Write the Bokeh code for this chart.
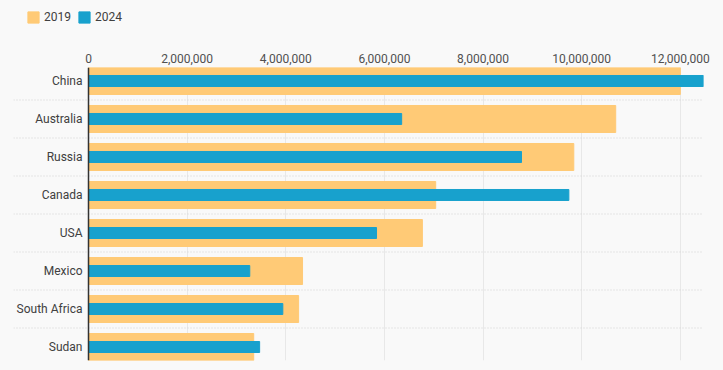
from bokeh.plotting import figure
from bokeh.layouts import column
from bokeh.models import (Range1d, FixedTicker, NumeralTickFormatter, Span,
                          Legend, LegendItem, ColumnDataSource)
from bokeh.core.properties import value
from bokeh.embed import file_html
from bokeh.resources import INLINE

countries = ["China", "Australia", "Russia", "Canada", "USA", "Mexico", "South Africa", "Sudan"]
values_2019 = [12000000, 10690000, 9840000, 7040000, 6770000, 4340000, 4260000, 3350000]
values_2024 = [12470000, 6350000, 8780000, 9740000, 5840000, 3270000, 3940000, 3470000]
series_names = ["2019", "2024"]
tick_values = [0, 2000000, 4000000, 6000000, 8000000, 10000000, 12000000]

BG = "#f9f9f9"
C2019 = "#ffca76"
C2024 = "#18a1cd"
FONT = "Roboto"
TEXT = "#404040"

n = len(countries)
ypos = list(range(n))
xmax = max(values_2019 + values_2024)
label_px = 75.0   # pixels reserved for category labels inside the frame
data_px = 615.0
xmin = -xmax * label_px / data_px

src = ColumnDataSource(dict(y=ypos, country=countries, v2019=values_2019, v2024=values_2024))

# ---- legend strip (top) ----
LEG_H = 40
lg = figure(width=723, height=LEG_H, output_backend="svg", toolbar_location=None,
            x_range=Range1d(0, xmax), y_range=Range1d(-1, n),
            background_fill_color=BG, border_fill_color=BG, outline_line_color=None,
            min_border=0)
lg.axis.visible = False
lg.grid.grid_line_color = None
l19 = lg.hbar(y="y", left=0, right="v2019", height=0.7, color=C2019, source=src, visible=False)
l24 = lg.hbar(y="y", left=0, right="v2024", height=0.3, color=C2024, source=src, visible=False)
legend = Legend(items=[LegendItem(label=series_names[0], renderers=[l19]),
                       LegendItem(label=series_names[1], renderers=[l24])],
                orientation="horizontal", location=(13, LEG_H - 24),
                glyph_width=14, glyph_height=14, label_standoff=4, spacing=6,
                padding=0, margin=0, border_line_color=None, background_fill_alpha=0,
                inactive_fill_alpha=0,
                label_text_font=FONT, label_text_font_size="12px", label_text_color=TEXT)
lg.add_layout(legend, "center")

# ---- main chart ----
p = figure(width=723, height=370 - LEG_H, output_backend="svg", toolbar_location=None,
           x_axis_location="above",
           x_range=Range1d(xmin, xmax), y_range=Range1d(n - 1 + 0.355, -0.355),
           background_fill_color=BG, border_fill_color=BG, outline_line_color=None,
           min_border_left=13, min_border_right=20, min_border_top=67 - LEG_H,
           min_border_bottom=10)

p.yaxis.visible = False
p.ygrid.grid_line_color = None
p.xgrid.ticker = FixedTicker(ticks=tick_values)
p.xgrid.grid_line_color = "#e8e8e8"
p.xgrid.grid_line_width = 1

ax = p.xaxis[0]
ax.ticker = FixedTicker(ticks=tick_values)
ax.formatter = NumeralTickFormatter(format="0,0")
ax.axis_line_color = None
ax.major_tick_line_color = None
ax.minor_tick_line_color = None
ax.major_tick_out = 0
ax.major_tick_in = 0
ax.major_label_standoff = 5
ax.major_label_text_font = FONT
ax.major_label_text_font_size = "12px"
ax.major_label_text_color = "#505050"

p.hbar(y="y", left=0, right="v2019", height=27 / 38, color=C2019, source=src)
p.hbar(y="y", left=0, right="v2024", height=11 / 38, color=C2024, source=src)

for i in range(n - 1):
    p.add_layout(Span(location=ypos[i] + 0.5, dimension="width", line_color="#d2d2d2",
                      line_width=1, line_dash="1 2"))

p.add_layout(Span(location=0, dimension="height", line_color="#333333", line_width=1.5))

p.text(x=0, y="y", text="country", source=src, x_offset=-6, text_align="right",
       text_baseline="middle", text_font=value(FONT), text_font_size="12px",
       text_color=TEXT)

layout = column(lg, p, spacing=0)

html = file_html(layout, INLINE)
html = html.replace("<head>", "<head><style>body{background:%s;}</style>" % BG, 1)
open("out.html", "w").write(html)
